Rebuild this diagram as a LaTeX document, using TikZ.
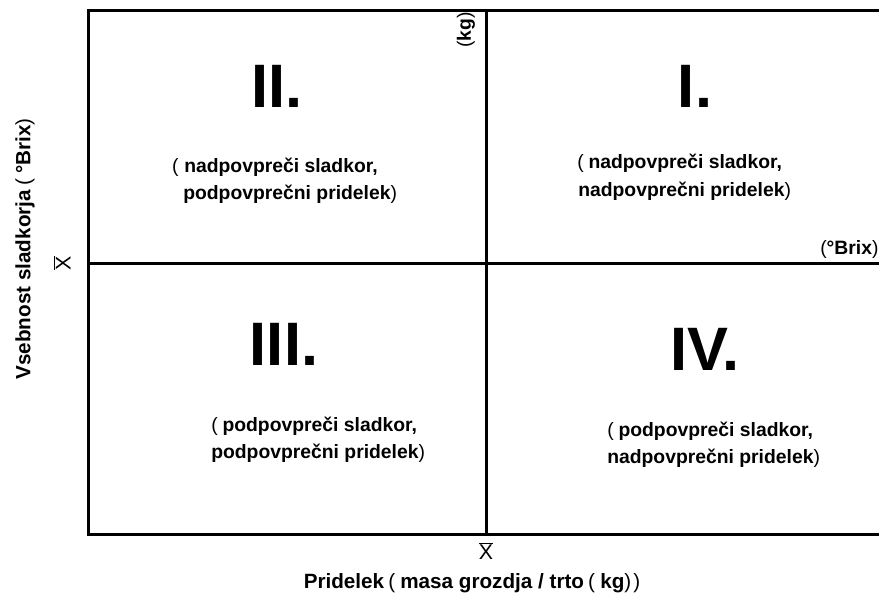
\documentclass[tikz,border=0pt]{standalone}
\usepackage{fontspec}
\setmainfont{Liberation Sans}
\newcommand\lpar{{\mdseries(}\hspace{0.25em}}
\newcommand\rpar{{\mdseries)}}
\newcommand\spar{\hspace{0.2em}{\mdseries(}\hspace{0.25em}}
\begin{document}
\begin{tikzpicture}[x=0.75pt,y=-0.75pt,
  frameline/.style={line width=2.25pt, line cap=rect},
  numeral/.style={font=\fontsize{46}{46}\selectfont\bfseries, inner sep=0pt},
  note/.style={font=\fontsize{14.5}{20}\selectfont\bfseries, inner sep=0pt, anchor=base west},
  unitlabel/.style={font=\fontsize{14.5}{17}\selectfont\bfseries, inner sep=0pt},
  axislabel/.style={font=\fontsize{15.5}{18}\selectfont\bfseries, inner sep=0pt},
  meanlabel/.style={font=\fontsize{16}{18}\selectfont, inner sep=0pt}]
  \clip (0,0) rectangle (879,601);

  % frame corners and quadrant dividers
  \coordinate (tl) at (88,10);
  \coordinate (bl) at (88,534);
  \coordinate (tr) at (882,10);
  \coordinate (br) at (882,534);
  \coordinate (vt) at (486,10);
  \coordinate (vb) at (486,534);
  \coordinate (hl) at (88,263);
  \coordinate (hr) at (882,263);
  \draw[frameline] (tr) -- (tl) -- (bl) -- (br);
  \draw[frameline] (vt) -- (vb);
  \draw[frameline] (hl) -- (hr);

  % quadrant numerals
  \node[numeral] (n2) at (277,86) {II.};
  \node[numeral] (n1) at (695,86) {I.};
  \node[numeral] (n3) at (284,344) {III.};
  \node[numeral] (n4) at (705,349) {IV.};

  % quadrant descriptions
  \node[note] (d2a) at (184,172) {\llap{{\mdseries(}\hspace{0.3em}}nadpovpreči sladkor,};
  \node[note] (d2b) at (183,199) {podpovprečni pridelek\rpar};
  \node[note] (d1a) at (577,168) {\lpar nadpovpreči sladkor,};
  \node[note] (d1b) at (578,196) {nadpovprečni pridelek\rpar};
  \node[note] (d3a) at (211,431) {\lpar podpovpreči sladkor,};
  \node[note] (d3b) at (211,458) {podpovprečni pridelek\rpar};
  \node[note] (d4a) at (607,436) {\lpar podpovpreči sladkor,};
  \node[note] (d4b) at (607,463) {nadpovprečni pridelek\rpar};

  % axis units at the dividers
  \node[unitlabel, rotate=90] (kg) at (466,30) {{\mdseries(}kg\rpar};
  \node[note] (brix) at (820,254) {{\mdseries(}°Brix\rpar};

  % means and axis titles
  \node[meanlabel] (xbar) at (486,551) {$\overline{\hbox{X}}$};
  \node[meanlabel, rotate=90] (ybar) at (62,263) {$\overline{\hbox{X}}$};
  \node[axislabel] (xtitle) at (472,583) {Pridelek\spar masa grozdja / trto\spar kg\rpar\hspace{0.1em}\rpar};
  \node[axislabel, rotate=90] (ytitle) at (25,249) {Vsebnost sladkorja\spar °Brix\rpar};
\end{tikzpicture}
\end{document}
